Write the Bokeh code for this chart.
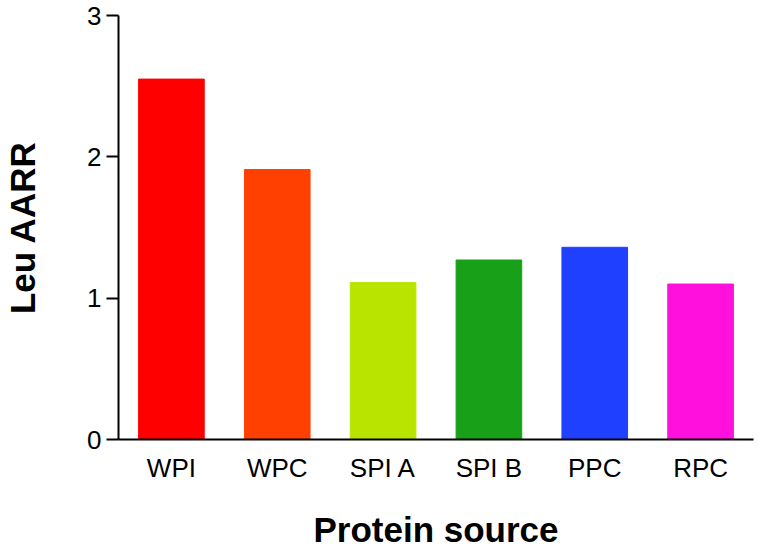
from bokeh.plotting import figure
from bokeh.models import ColumnDataSource, FactorRange, Range1d, FixedTicker
from bokeh.embed import file_html
from bokeh.resources import INLINE

sources = ["WPI", "WPC", "SPI A", "SPI B", "PPC", "RPC"]
leu_aarr = [2.55, 1.91, 1.11, 1.27, 1.36, 1.10]
colors = ["#FF0000", "#FF4000", "#B8E400", "#18A018", "#2040FF", "#FF10DC"]
y_ticks = [0, 1, 2, 3]

src = ColumnDataSource(dict(x=sources, top=leu_aarr, color=colors))

p = figure(
    width=759, height=553,
    x_range=FactorRange(*sources, range_padding=0),
    y_range=Range1d(0, 3),
    output_backend="svg", toolbar_location=None,
    min_border_left=116, min_border_right=6, min_border_top=15, min_border_bottom=114,
)

p.vbar(x="x", top="top", width=0.62, source=src, fill_color="color", line_color="color")

FONT = "Liberation Sans"

p.xgrid.visible = False
p.ygrid.visible = False
p.outline_line_color = None

# Y axis
p.yaxis.ticker = FixedTicker(ticks=y_ticks)
p.yaxis.minor_tick_line_color = None
p.yaxis.major_tick_in = 0
p.yaxis.major_tick_out = 12
p.yaxis.major_tick_line_width = 2
p.yaxis.axis_line_width = 2
p.yaxis.major_label_standoff = 5
p.yaxis.major_label_text_font = FONT
p.yaxis.major_label_text_font_size = "26px"
p.yaxis.major_label_text_color = "black"
p.yaxis.axis_label = "Leu AARR"
p.yaxis.axis_label_text_font = FONT
p.yaxis.axis_label_text_font_style = "bold"
p.yaxis.axis_label_text_font_size = "35px"
p.yaxis.axis_label_text_color = "black"
p.yaxis.axis_label_standoff = 42

# X axis
p.xaxis.major_tick_line_color = None
p.xaxis.minor_tick_line_color = None
p.xaxis.major_tick_out = 0
p.xaxis.major_tick_in = 0
p.xaxis.axis_line_width = 2
p.xaxis.major_label_standoff = 13
p.xaxis.major_label_text_font = FONT
p.xaxis.major_label_text_font_size = "26px"
p.xaxis.major_label_text_color = "black"
p.xaxis.axis_label = "Protein source"
p.xaxis.axis_label_text_font = FONT
p.xaxis.axis_label_text_font_style = "bold"
p.xaxis.axis_label_text_font_size = "35px"
p.xaxis.axis_label_text_color = "black"
p.xaxis.axis_label_standoff = 24

open("out.html", "w").write(file_html(p, INLINE))
